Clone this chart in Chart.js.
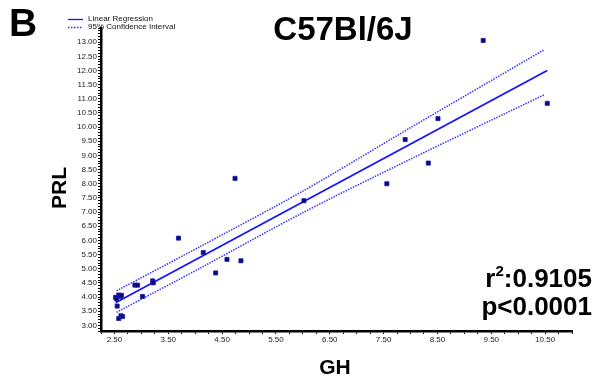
<!DOCTYPE html>
<html>
<head>
<meta charset="utf-8">
<script src="https://cdn.jsdelivr.net/npm/chart.js@4/dist/chart.umd.min.js"></script>
<style>
  body { margin: 0; background: #fff; }
</style>
</head>
<body>
<canvas id="scatter-chart" width="593" height="383"></canvas>
<script>
// GH vs PRL
var ghValues = [2.52, 2.54, 2.58, 2.60, 2.63, 2.55, 2.58, 2.62, 2.65, 2.88, 2.93, 3.02, 3.21, 3.22,
                3.69, 4.15, 4.38, 4.59, 4.74, 4.85, 6.02, 7.56, 7.90, 8.33, 8.51, 9.35, 10.54];
var prlValues = [3.99, 3.93, 4.07, 4.02, 4.06, 3.68, 3.24, 3.34, 3.31, 4.42, 4.42, 4.02, 4.57, 4.50,
                 6.08, 5.57, 4.85, 5.33, 8.19, 5.28, 7.40, 8.00, 9.56, 8.73, 10.30, 13.06, 10.84];

// regression line end points
var regX = [2.52, 10.54];
var regY = [3.80, 12.00];

// 95% confidence band
var bandX = [2.54, 4.15, 6.00, 8.00, 10.48];
var bandUpper = [4.22, 5.84, 7.74, 9.98, 12.73];
var bandLower = [3.46, 5.08, 6.98, 8.87, 11.14];

var xMin = 2.25, xMax = 11, xStep = 0.25;
var yMin = 2.8, yMax = 13.5, yStep = 0.1;

var title = "C57Bl/6J";
var panelLetter = "B";
var xTitle = "GH";
var yTitle = "PRL";
var r2Text = "0.9105";
var pText = "p<0.0001";
var legendLabels = ["Linear Regression", "95% Confidence Interval"];

function toPoints(xs, ys) {
    var pts = [];
    for (var i = 0; i < xs.length; i++)
        pts.push({x: xs[i], y: ys[i]});
    return pts;
}

var lineBlue = "#1414ff";
var bandBlue = "#3535ff";

var textPlugin = {
    id: "texts",
    afterDraw: function(chart) {
        var ctx = chart.ctx;
        ctx.save();
        ctx.fillStyle = "#000";
        ctx.textBaseline = "alphabetic";

        ctx.font = "bold 39px 'Liberation Sans', Arial";
        ctx.textAlign = "left";
        ctx.fillText(panelLetter, 9, 36);

        ctx.font = "bold 33px 'Liberation Sans', Arial";
        ctx.textAlign = "center";
        ctx.fillText(title, 343, 40);

        ctx.font = "bold 21px 'Liberation Sans', Arial";
        ctx.fillText(xTitle, 335, 374);

        ctx.save();
        ctx.translate(66, 188);
        ctx.rotate(-Math.PI / 2);
        ctx.fillText(yTitle, 0, 0);
        ctx.restore();

        // r2 and p
        ctx.textAlign = "left";
        ctx.font = "bold 26px 'Liberation Sans', Arial";
        var wR = ctx.measureText("r").width;
        var wRest = ctx.measureText(":" + r2Text).width;
        ctx.font = "bold 15px 'Liberation Sans', Arial";
        var wSup = ctx.measureText("2").width;
        var startX = 592 - (wR + wSup + wRest);
        ctx.font = "bold 26px 'Liberation Sans', Arial";
        ctx.fillText("r", startX, 287);
        ctx.fillText(":" + r2Text, startX + wR + wSup, 287);
        ctx.font = "bold 15px 'Liberation Sans', Arial";
        ctx.fillText("2", startX + wR, 276);
        ctx.font = "bold 26px 'Liberation Sans', Arial";
        ctx.textAlign = "right";
        ctx.fillText(pText, 592, 315);

        // legend
        ctx.lineWidth = 1.3;
        ctx.strokeStyle = lineBlue;
        ctx.beginPath();
        ctx.moveTo(68, 19.5);
        ctx.lineTo(83, 19.5);
        ctx.stroke();
        ctx.strokeStyle = bandBlue;
        ctx.setLineDash([1.5, 1.5]);
        ctx.beginPath();
        ctx.moveTo(68, 27.5);
        ctx.lineTo(83, 27.5);
        ctx.stroke();
        ctx.setLineDash([]);
        ctx.fillStyle = "#111";
        ctx.font = "8px 'Liberation Sans', Arial";
        ctx.textAlign = "left";
        ctx.textBaseline = "middle";
        ctx.fillText(legendLabels[0], 88, 19);
        ctx.fillText(legendLabels[1], 88, 27);
        ctx.restore();
    }
};

var chartCanvas = document.getElementById("scatter-chart");

var scatterChart = new Chart(chartCanvas, {
    type: "scatter",
    data: {
        datasets: [
            {
                label: "Data",
                data: toPoints(ghValues, prlValues),
                pointStyle: "rect",
                pointRadius: 2.9,
                backgroundColor: "#08087a",
                borderColor: "#1c1ca8",
                borderWidth: 0.8,
                order: 0
            },
            {
                label: legendLabels[0],
                type: "line",
                data: toPoints(regX, regY),
                borderColor: lineBlue,
                borderWidth: 1.8,
                pointRadius: 0,
                fill: false,
                order: 1
            },
            {
                label: legendLabels[1] + " upper",
                type: "line",
                data: toPoints(bandX, bandUpper),
                borderColor: bandBlue,
                borderWidth: 1.5,
                borderDash: [1.5, 1.2],
                pointRadius: 0,
                tension: 0.3,
                fill: false,
                order: 2
            },
            {
                label: legendLabels[1] + " lower",
                type: "line",
                data: toPoints(bandX, bandLower),
                borderColor: bandBlue,
                borderWidth: 1.5,
                borderDash: [1.5, 1.2],
                pointRadius: 0,
                tension: 0.3,
                fill: false,
                order: 2
            }
        ]
    },
    options: {
        responsive: false,
        animation: false,
        layout: {
            padding: {top: 28, right: 21, left: 0, bottom: 0}
        },
        plugins: {
            legend: {display: false},
            tooltip: {enabled: false}
        },
        scales: {
            x: {
                type: "linear",
                min: xMin,
                max: xMax,
                afterFit: function(scale) { scale.height = 52; },
                border: {display: true, color: "#000", width: 2.5},
                grid: {drawOnChartArea: false, drawTicks: true, tickLength: 3, color: "#000"},
                ticks: {
                    stepSize: xStep,
                    autoSkip: false,
                    maxRotation: 0,
                    minRotation: 0,
                    padding: 1,
                    color: "#222",
                    font: {family: "'Liberation Sans', Arial", size: 8},
                    callback: function(value) {
                        var q = Math.round(value * 4);
                        if ((q - 10) % 4 === 0) return value.toFixed(2);
                        return "";
                    }
                }
            },
            y: {
                type: "linear",
                min: yMin,
                max: yMax,
                afterFit: function(scale) { scale.width = 101; },
                border: {display: true, color: "#000", width: 2.5},
                grid: {drawOnChartArea: false, drawTicks: true, tickLength: 3, color: "#000"},
                ticks: {
                    stepSize: yStep,
                    autoSkip: false,
                    padding: 1,
                    color: "#222",
                    font: {family: "'Liberation Sans', Arial", size: 8},
                    callback: function(value) {
                        var q = Math.round(value * 10);
                        if (q % 5 === 0 && value >= 3 && value <= 13) return value.toFixed(2);
                        return "";
                    }
                }
            }
        }
    },
    plugins: [textPlugin]
});
</script>
</body>
</html>
